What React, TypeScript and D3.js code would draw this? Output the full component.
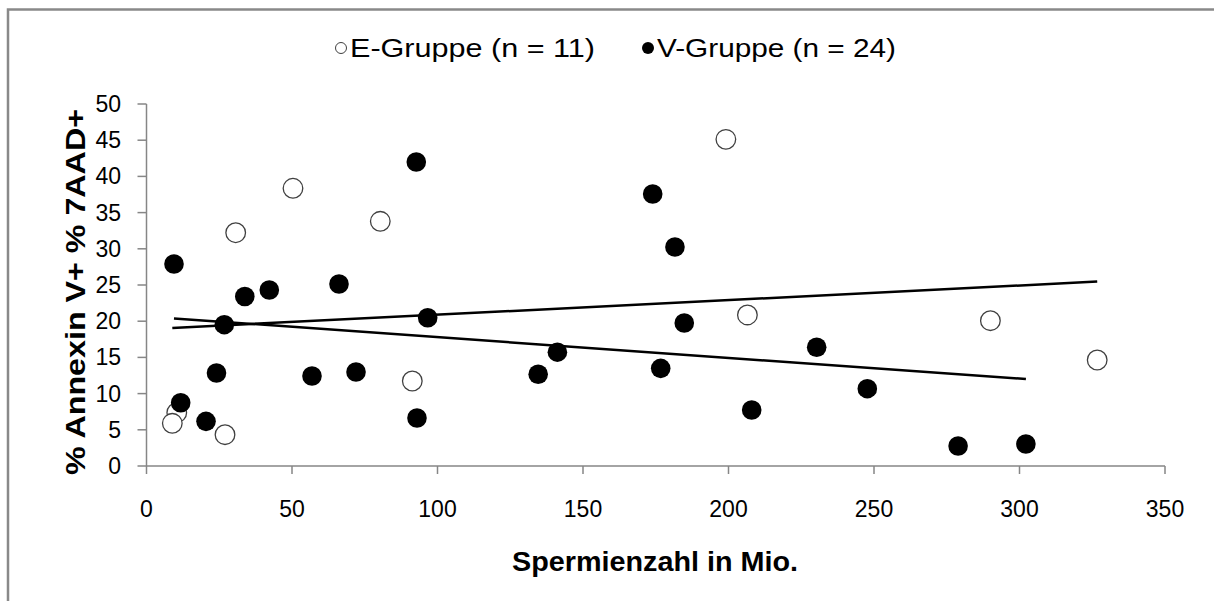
import React from "react";
import * as d3 from "d3";

const eX = [10.4, 8.87, 26.98, 30.65, 50.34, 80.34, 91.34, 199.1, 206.5, 290.0, 326.7];
const eY = [7.36, 5.9, 4.32, 32.22, 38.36, 33.8, 11.74, 45.12, 20.86, 20.07, 14.64];

const vX = [9.45, 11.75, 20.45, 24.05, 26.74, 33.78, 42.2, 56.87, 66.15, 72.0, 92.71, 92.95, 96.63, 134.6, 141.2, 173.95, 176.7, 181.6, 184.8, 207.97, 230.3, 247.7, 278.9, 302.2];
const vY = [27.9, 8.74, 6.17, 12.85, 19.52, 23.41, 24.31, 12.43, 25.14, 12.98, 41.99, 6.63, 20.48, 12.68, 15.72, 37.57, 13.49, 30.25, 19.75, 7.73, 16.4, 10.68, 2.76, 3.04];

const xTicks = [0, 50, 100, 150, 200, 250, 300, 350];
const yTicks = [0, 5, 10, 15, 20, 25, 30, 35, 40, 45, 50];

const legendE = "E-Gruppe (n = 11)";
const legendV = "V-Gruppe (n = 24)";
const xTitle = "Spermienzahl in Mio.";
const yTitle = "% Annexin V+ % 7AAD+";

function regression(xs: number[], ys: number[]) {
  const mx = d3.mean(xs) as number;
  const my = d3.mean(ys) as number;
  let sxy = 0, sxx = 0;
  xs.forEach((x, i) => {
    sxy += (x - mx) * (ys[i] - my);
    sxx += (x - mx) * (x - mx);
  });
  const b = sxy / sxx;
  const a = my - b * mx;
  const [x0, x1] = d3.extent(xs) as [number, number];
  return [[x0, a + b * x0], [x1, a + b * x1]];
}

export default function App() {
  const W = 1214, H = 601;
  const x = d3.scaleLinear().domain([0, 350]).range([146.5, 1165]);
  const y = d3.scaleLinear().domain([0, 50]).range([466, 104]);
  const axisColor = "#868686";
  const font = "'Liberation Sans', Arial, sans-serif";
  const line = d3.line<number[]>().x(d => x(d[0])).y(d => y(d[1]));
  const tE = regression(eX, eY);
  const tV = regression(vX, vY);
  const r = 9.8;

  return (
    <svg width={W} height={H} style={{ position: "absolute", left: 0, top: 0, background: "#fff" }}>
      <rect x={0} y={0} width={W} height={H} fill="#fff" />
      <rect x={8} y={9.5} width={W + 20} height={H + 20} fill="none" stroke="#898989" strokeWidth={2.5} />
      {/* legend */}
      <g fontFamily={font} fontSize={25} fill="#000">
        <circle cx={341} cy={48} r={5.5} fill="#fff" stroke="#404040" strokeWidth={1} />
        <text x={350} y={48} dy="0.35em" textLength={245} lengthAdjust="spacingAndGlyphs">{legendE}</text>
        <circle cx={648} cy={48} r={6} fill="#000" />
        <text x={657} y={48} dy="0.35em" textLength={239} lengthAdjust="spacingAndGlyphs">{legendV}</text>
      </g>
      {/* axes */}
      <line x1={x(0)} x2={x(0)} y1={y(50)} y2={y(0)} stroke={axisColor} strokeWidth={1.5} />
      <line x1={x(0)} x2={x(350)} y1={y(0)} y2={y(0)} stroke={axisColor} strokeWidth={1.5} />
      {yTicks.map(t => (
        <g key={"y" + t}>
          <line x1={x(0) - 9} x2={x(0)} y1={y(t)} y2={y(t)} stroke={axisColor} strokeWidth={1.5} />
          <text x={121} y={y(t)} dy="0.35em" textAnchor="end" fontFamily={font} fontSize={23} fill="#000">{t}</text>
        </g>
      ))}
      {xTicks.map(t => (
        <g key={"x" + t}>
          <line x1={x(t)} x2={x(t)} y1={y(0)} y2={y(0) + 8} stroke={axisColor} strokeWidth={1.5} />
          <text x={x(t)} y={509} dy="0.35em" textAnchor="middle" fontFamily={font} fontSize={23} fill="#000">{t}</text>
        </g>
      ))}
      <text x={512} y={562} dy="0.35em" fontFamily={font} fontSize={27} fontWeight="bold" fill="#000" textLength={286} lengthAdjust="spacingAndGlyphs">{xTitle}</text>
      <text transform={`translate(75,475) rotate(-90)`} dy="0.35em" fontFamily={font} fontSize={28} fontWeight="bold" fill="#000" textLength={366} lengthAdjust="spacingAndGlyphs">{yTitle}</text>
      {/* E points */}
      {eX.map((v, i) => (
        <circle key={"e" + i} cx={x(v)} cy={y(eY[i])} r={r} fill="#fff" stroke="#404040" strokeWidth={1.3} />
      ))}
      {/* V points */}
      {vX.map((v, i) => (
        <circle key={"v" + i} cx={x(v)} cy={y(vY[i])} r={r} fill="#000" />
      ))}
      {/* trend lines */}
      <path d={line(tE) as string} stroke="#000" strokeWidth={2.5} fill="none" />
      <path d={line(tV) as string} stroke="#000" strokeWidth={2.5} fill="none" />
    </svg>
  );
}
